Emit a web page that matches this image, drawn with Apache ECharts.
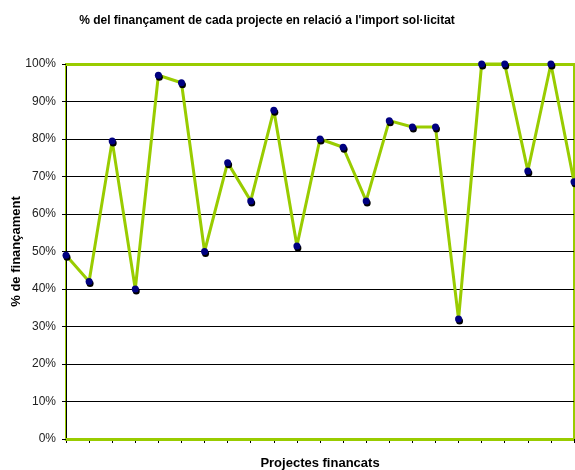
<!DOCTYPE html>
<html lang="ca">
<head>
    <meta charset="UTF-8">
    <title>% del finançament</title>
    <script src="https://cdn.jsdelivr.net/npm/echarts@6/dist/echarts.min.js"></script>
    <style>
        html, body { margin: 0; padding: 0; background: #fff; }
    </style>
</head>
<body>
    <div id="main" style="width:575px;height:470px;"></div>
<script type="text/javascript">
    // projectes (sense etiqueta a l'eix)
    var projectes = ['1','2','3','4','5','6','7','8','9','10','11','12','13','14','15','16','17','18','19','20','21','22','23'];
    // % del finançament respecte a l'import sol·licitat
    var percentatges = [49, 42, 79.5, 40, 97, 95, 50, 73.7, 63.5, 87.7, 51.5, 80, 77.8, 63.5, 84.9, 83.2, 83.2, 32, 100, 100, 71.5, 100, 68.6];
    var yTicks = [0, 10, 20, 30, 40, 50, 60, 70, 80, 90, 100];

    var font = '"Liberation Sans", Arial, sans-serif';
    var verd = '#99CC00';

    var myChart = echarts.init(document.getElementById('main'));
    var option = {
        animation: false,
        title: {
            text: "% del finançament de cada projecte en relació a l'import sol·licitat",
            left: 262,
            textAlign: 'center',
            top: 10,
            textStyle: { fontFamily: font, fontSize: 12, fontWeight: 'bold', color: '#000' }
        },
        grid: {
            left: 66,
            right: 1,
            top: 64,
            bottom: 31,
            outerBoundsMode: 'none',
            containLabel: false,
            show: true,
            borderColor: verd,
            borderWidth: 2
        },
        xAxis: {
            type: 'category',
            data: projectes,
            boundaryGap: false,
            name: 'Projectes financats',
            nameLocation: 'middle',
            nameGap: 18,
            nameMoveOverlap: false,
            nameTextStyle: { fontFamily: font, fontSize: 13, fontWeight: 'bold', color: '#000' },
            axisLine: { lineStyle: { color: verd, width: 3 } },
            axisTick: { show: true, length: 4, lineStyle: { color: '#000' } },
            axisLabel: { show: false },
            splitLine: { show: false }
        },
        yAxis: {
            type: 'value',
            min: 0,
            max: 100,
            interval: 10,
            name: '% de finançament',
            nameLocation: 'middle',
            nameGap: 43,
            nameRotate: 90,
            nameMoveOverlap: false,
            nameTextStyle: { fontFamily: font, fontSize: 13, fontWeight: 'bold', color: '#000' },
            axisLine: { show: true, lineStyle: { color: '#000', width: 1 } },
            axisTick: { show: true, length: 4, lineStyle: { color: '#000' } },
            axisLabel: {
                margin: 10,
                fontFamily: font,
                fontSize: 12,
                color: '#222',
                formatter: function (v) { return yTicks.indexOf(v) >= 0 ? v + '%' : ''; }
            },
            splitLine: { show: true, lineStyle: { color: '#000', width: 1 } }
        },
        series: [
            {
                name: '% de finançament',
                type: 'line',
                data: percentatges,
                symbol: 'circle',
                symbolSize: 7,
                clip: false,
                z: 3,
                lineStyle: { color: verd, width: 3 },
                itemStyle: {
                    color: '#000080',
                    shadowColor: '#000',
                    shadowOffsetX: 1,
                    shadowOffsetY: 2,
                    shadowBlur: 0
                },
                markLine: {
                    silent: true,
                    symbol: 'none',
                    label: { show: false },
                    z: 2,
                    lineStyle: { color: verd, width: 3, type: 'solid' },
                    data: [{ yAxis: 100 }, { yAxis: 0 }]
                }
            }
        ]
    };
    myChart.setOption(option);
</script>
</body>
</html>
